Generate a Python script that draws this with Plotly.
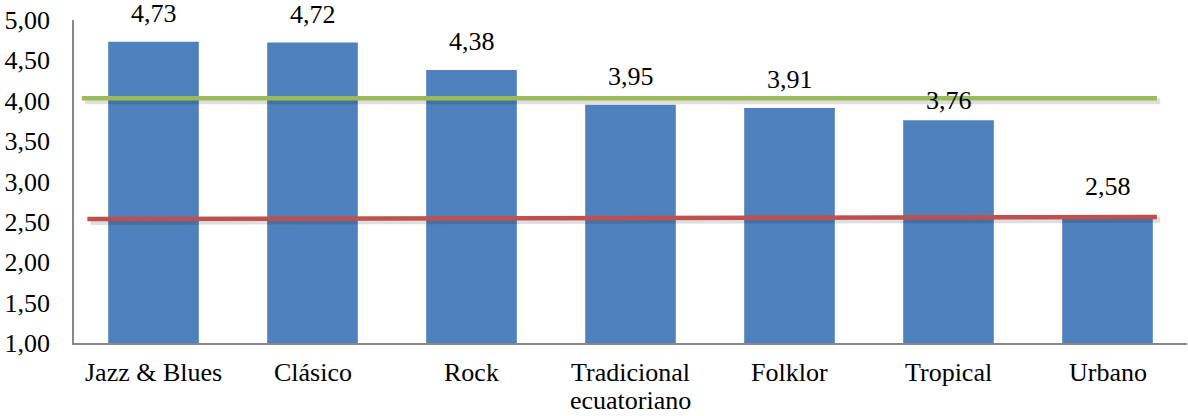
import plotly.graph_objects as go

# Puntaje promedio por género musical
generos = ["Jazz & Blues", "Clásico", "Rock", "Tradicional<br>ecuatoriano",
           "Folklor", "Tropical", "Urbano"]
promedios = [4.73, 4.72, 4.38, 3.95, 3.91, 3.76, 2.58]

# Líneas de referencia (nivel al inicio y al final)
linea_alta = [4.03, 4.03]
linea_baja = [2.535, 2.56]

FUENTE = "Liberation Serif, Times New Roman, serif"
TAM = 26
INTERLINEA = 28
AZUL = "#4F81BD"
VERDE = "#9BBB59"
ROJO = "#C0504D"

fig = go.Figure()
fig.add_trace(go.Bar(
    x=generos, y=promedios, width=0.57,
    marker=dict(color=AZUL, line=dict(width=0)),
    hoverinfo="y",
))

# Etiquetas de valor sobre cada barra (la de Tropical va algo más baja)
desplazamiento = {"Tropical": 3}
for g, v in zip(generos, promedios):
    fig.add_annotation(
        x=g, y=v, text=f"{v:.2f}".replace(".", ","),
        showarrow=False, yanchor="bottom", yshift=desplazamiento.get(g, 12),
        font=dict(family=FUENTE, size=TAM, color="#000000"),
    )

# Nombres de categoría bajo el eje, con interlineado compacto
for g in generos:
    for i, renglon in enumerate(g.split("<br>")):
        fig.add_annotation(
            x=g, y=0, xref="x", yref="paper", text=renglon,
            showarrow=False, yanchor="top", yshift=-13 - i * INTERLINEA,
            font=dict(family=FUENTE, size=TAM, color="#000000"),
        )

def linea(niveles, x0, x1, color):
    # sombra suave bajo la línea
    fig.add_shape(type="line", xref="x domain", yref="y",
                  x0=x0 + 0.003, x1=x1 + 0.003,
                  y0=niveles[0] - 0.035, y1=niveles[1] - 0.035,
                  line=dict(color="rgba(0,0,0,0.13)", width=6),
                  layer="above")
    fig.add_shape(type="line", xref="x domain", yref="y",
                  x0=x0, x1=x1, y0=niveles[0], y1=niveles[1],
                  line=dict(color=color, width=4.5), layer="above")

linea(linea_alta, 0.007, 0.973, VERDE)
linea(linea_baja, 0.012, 0.973, ROJO)

fig.update_layout(
    width=1188, height=416,
    margin=dict(l=74, r=1, t=20, b=73, autoexpand=False),
    paper_bgcolor="white", plot_bgcolor="white",
    separators=",.",
    showlegend=False,
    bargap=0.43,
    font=dict(family=FUENTE, size=TAM, color="#000000"),
)
fig.update_yaxes(
    range=[1, 5], dtick=0.5, tickformat=".2f",
    showgrid=False, zeroline=False, automargin=False,
    showline=True, linecolor="#888888", linewidth=1.5,
    ticks="", ticklabelstandoff=17,
    tickfont=dict(family=FUENTE, size=TAM, color="#000000"),
)
fig.update_xaxes(
    showgrid=False, showline=True, linecolor="#888888", linewidth=1.5,
    ticks="", showticklabels=False, automargin=False,
)

fig.write_html("out.html")
